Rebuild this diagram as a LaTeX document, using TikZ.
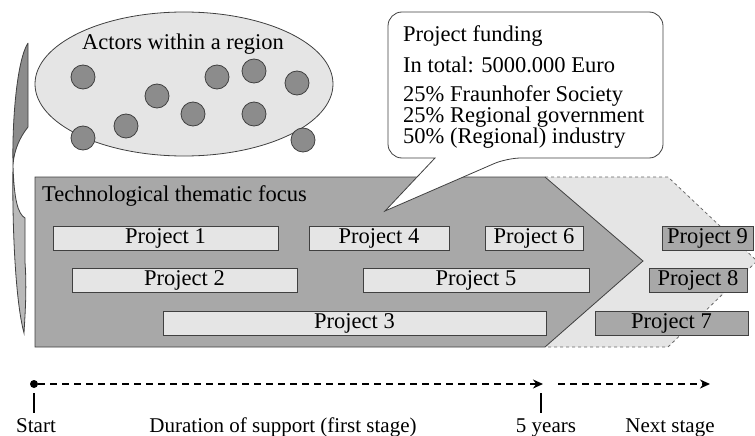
\documentclass[tikz,border=0pt]{standalone}
\usepackage{fontspec}
\setmainfont{Liberation Serif}
\usepackage{tikz}
\usetikzlibrary{arrows.meta,shapes.geometric}
\definecolor{darkgrey}{gray}{0.66}
\definecolor{lightgrey}{gray}{0.90}
\definecolor{dotgrey}{gray}{0.55}
\tikzstyle{txt}=[font=\fontsize{22.5}{25}\selectfont,inner sep=0pt]
\tikzstyle{small txt}=[font=\fontsize{21}{24}\selectfont,inner sep=0pt]
\tikzstyle{project}=[txt,draw=black!75,fill=lightgrey,thick,minimum height=24pt]
\tikzstyle{late project}=[project,fill=darkgrey]
\tikzstyle{actor}=[circle,draw=black!75,fill=dotgrey,thick,minimum size=24pt,inner sep=0pt]
\tikzstyle{region}=[ellipse,draw=black!75,fill=lightgrey,thick,minimum width=298pt,minimum height=144pt]
\tikzstyle{timeline}=[draw,line width=1.6pt,dash pattern=on 7pt off 5pt,-{Stealth[length=10pt,width=9pt]}]
\tikzstyle{tick}=[draw,line width=1.2pt]

\begin{document}
\begin{tikzpicture}[x=1pt,y=-1pt]
    \useasboundingbox (0,0) rectangle (755,436);
    % The twisted band on the left
    \fill[dotgrey,draw=black!75,thick] (28,43) -- (28,127) .. controls (20,137) and (14,150) .. (13,165)
        .. controls (12,120) and (17,60) .. (28,43);
    \fill[gray!55,draw=black!75,thick] (13,165) .. controls (14,200) and (18,214) .. (25,218) -- (25,262)
        .. controls (27,290) and (25,315) .. (24,333) .. controls (15,300) and (12,220) .. (13,165);

    % The actors within a region
    \node[region] (region) at (184,84) {};
    \node[txt] (actors) at (183,44) {Actors within a region};
    \foreach \pos/\name in {{(83,77)/a1},{(157,96)/a2},{(217,77)/a3},{(254,71)/a4},{(297,83)/a5},
                            {(193,114)/a6},{(254,114)/a7},{(126,126)/a8},{(83,138)/a9},{(303,140)/a10}}
        \node[actor] (\name) at \pos {};

    % Next stage (dashed) behind the thematic focus
    \filldraw[fill=lightgrey,draw=black!60,thick,dashed] (545,177) -- (668,177) -- (757,261) -- (668,347) -- (545,347);
    \filldraw[fill=darkgrey,draw=black!75,thick] (35,177) -- (545,177) -- (643,261) -- (545,347) -- (35,347) -- cycle;
    \node[txt,anchor=base west] (focus) at (42,201) {Technological thematic focus};

    % The projects
    \foreach \pos/\w/\name/\num in {{(165.5,238)/225/p1/1},{(184.5,280.5)/225/p2/2},{(354.5,323.5)/383/p3/3},
                                    {(379,238)/140/p4/4},{(476,280.5)/226/p5/5},{(534,238)/98/p6/6}}
        \node[project,minimum width=\w pt] (\name) at \pos {Project \num};
    \foreach \pos/\w/\name/\num in {{(671.5,323.5)/153/p7/7},{(698,280.5)/98/p8/8},{(707.5,238)/91/p9/9}}
        \node[late project,minimum width=\w pt] (\name) at \pos {Project \num};

    % The funding bubble
    \filldraw[fill=white,draw=black!75,thick] (435,158) [rounded corners=14pt] -- (388,158) -- (388,12) -- (663,12)
        -- (663,158) -- (507,158) [sharp corners] -- (385,211) -- cycle;
    \foreach \y/\name/\line in {42/f1/Project funding,73/f2/In total: 5000.000 Euro,102/f3/25\% Fraunhofer Society,
                                122/f4/25\% Regional government,143/f5/50\% (Regional) industry}
        \node[txt,anchor=base west] (\name) at (403,\y) {\line};

    % The time line
    \node[circle,fill=black,minimum size=8pt,inner sep=0pt] (start) at (34,384) {};
    \coordinate (five) at (543,384);
    \coordinate (next) at (558,384);
    \coordinate (end) at (710,384);
    \path[timeline] (start) -- (five);
    \path[timeline] (next) -- (end);
    \foreach \x/\name in {34/t0,541/t5} {
        \coordinate (\name a) at (\x,393);
        \coordinate (\name b) at (\x,413);
        \path[tick] (\name a) -- (\name b);
    }
    \foreach \x/\name/\lbl in {36/l0/Start,283/l1/Duration of support (first stage),546/l5/5 years,670/l6/Next stage}
        \node[small txt,anchor=base] (\name) at (\x,432) {\lbl};
\end{tikzpicture}
\end{document}
